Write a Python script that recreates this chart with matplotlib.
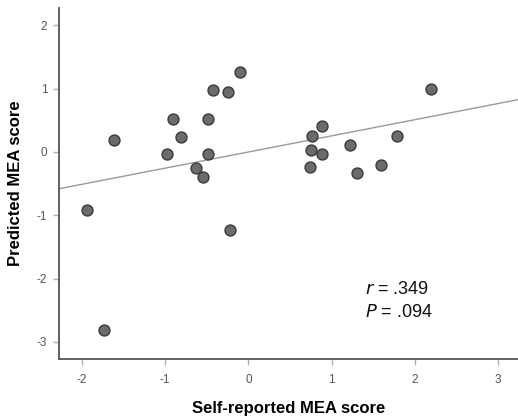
import matplotlib
matplotlib.use("Agg")
import matplotlib.pyplot as plt
import numpy as np

plt.rcParams['font.family'] = ['Liberation Sans', 'DejaVu Sans']

self_reported = [-1.94, -1.73, -1.61, -0.98, -0.91, -0.81, -0.63, -0.54, -0.49, -0.49,
                 -0.43, -0.24, -0.22, -0.10, 0.74, 0.75, 0.76, 0.89, 0.89, 1.22,
                 1.30, 1.59, 1.79, 2.19]
predicted = [-0.92, -2.81, 0.185, -0.03, 0.52, 0.24, -0.25, -0.39, 0.52, -0.04,
             0.98, 0.94, -1.24, 1.26, -0.24, 0.03, 0.25, 0.41, -0.04, 0.11,
             -0.33, -0.20, 0.25, 0.99]
xticks = [-2, -1, 0, 1, 2, 3]
yticks = [-3, -2, -1, 0, 1, 2]
r_text = r"$\it{r}$ = .349"
p_text = r"$\it{P}$ = .094"

fig = plt.figure(figsize=(5.18, 4.17), dpi=100)
ax = fig.add_axes([0.1139, 0.1384, 0.8861, 0.843])

x = np.array(self_reported)
y = np.array(predicted)
slope, intercept = np.polyfit(x, y, 1)
xlim = (-2.275, 3.24)
ylim = (-3.275, 2.275)
xx = np.array(xlim)
ax.plot(xx, slope * xx + intercept, color='#9a9a9a', lw=1.0, zorder=1)
ax.scatter(x, y, s=62, facecolor='#6b6b6b', edgecolor='#3a3a3a', linewidth=1.0, zorder=3)

ax.set_xlim(*xlim)
ax.set_ylim(*ylim)
ax.set_xticks(xticks)
ax.set_yticks(yticks)
ax.set_xticklabels([str(t) for t in xticks])
ax.set_yticklabels([str(t) for t in yticks])
ax.tick_params(axis='both', colors='#b0b0b0', labelcolor='#555555', labelsize=8.5, length=4.5, width=1)
ax.tick_params(axis='x', pad=6)
ax.tick_params(axis='y', pad=4)
for s in ['top', 'right']:
    ax.spines[s].set_visible(False)
for s in ['left', 'bottom']:
    ax.spines[s].set_color('#555555')
    ax.spines[s].set_linewidth(1.3)

ax.set_xlabel('Self-reported MEA score', fontsize=12, fontweight='bold', labelpad=11)
ax.set_ylabel('Predicted MEA score', fontsize=12, fontweight='bold', labelpad=10)

ax.text(1.40, -2.18, r_text, fontsize=13, ha='left', va='center', color='#111111')
ax.text(1.40, -2.53, p_text, fontsize=13, ha='left', va='center', color='#111111')

fig.savefig('out.png', dpi=100)
